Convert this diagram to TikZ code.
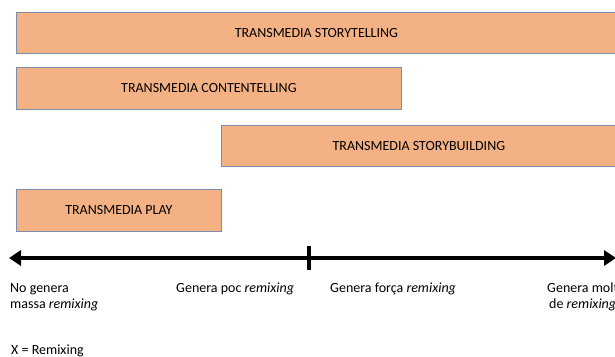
\documentclass[tikz,border=0pt]{standalone}
\usepackage{fontspec}
\setmainfont{Carlito}
\usetikzlibrary{arrows.meta}
\definecolor{boxfill}{HTML}{F4B183}
\definecolor{boxline}{RGB}{125,140,170}
\tikzset{
  bar/.style={draw=boxline, line width=0.8pt, fill=boxfill, inner sep=0pt, anchor=north west, font=\fontsize{14}{16}\selectfont},
  lbl/.style={inner sep=0pt, font=\fontsize{14}{16}\selectfont},
}
\begin{document}
\begin{tikzpicture}[x=1pt,y=-1pt]
\useasboundingbox (0,0) rectangle (615,356);
\clip (0,0) rectangle (615,356);
\node[bar, minimum width=600pt, minimum height=41pt] (st) at (16,12) {TRANSMEDIA STORYTELLING};
\node[bar, minimum width=385pt, minimum height=42pt] (ct) at (16,67) {TRANSMEDIA CONTENTELLING};
\node[bar, minimum width=395pt, minimum height=41pt] (sb) at (221,125) {TRANSMEDIA STORYBUILDING};
\node[bar, minimum width=205pt, minimum height=42pt] (pl) at (16,189) {TRANSMEDIA PLAY};
\coordinate (aL) at (9,258);
\coordinate (aR) at (616,258);
\coordinate (tT) at (309,246);
\coordinate (tB) at (309,270);
\draw[line width=4pt, {Triangle[length=12pt,width=15pt]}-{Triangle[length=12pt,width=15pt]}] (aL) -- (aR);
\draw[line width=4pt] (tT) -- (tB);
\node[lbl, anchor=base west] (l1a) at (10,292) {No genera};
\node[lbl, anchor=base west] (l1b) at (10,308) {massa \textit{remixing}};
\node[lbl, anchor=base west] (l2) at (176,292) {Genera poc \textit{remixing}};
\node[lbl, anchor=base west] (l3) at (330,292) {Genera força \textit{remixing}};
\node[lbl, anchor=base west] (l4a) at (547,292) {Genera molt};
\node[lbl, anchor=base west] (l4b) at (549,308) {de \textit{remixing}};
\node[lbl, anchor=base west] (x) at (11,354) {X = Remixing};
\end{tikzpicture}
\end{document}
